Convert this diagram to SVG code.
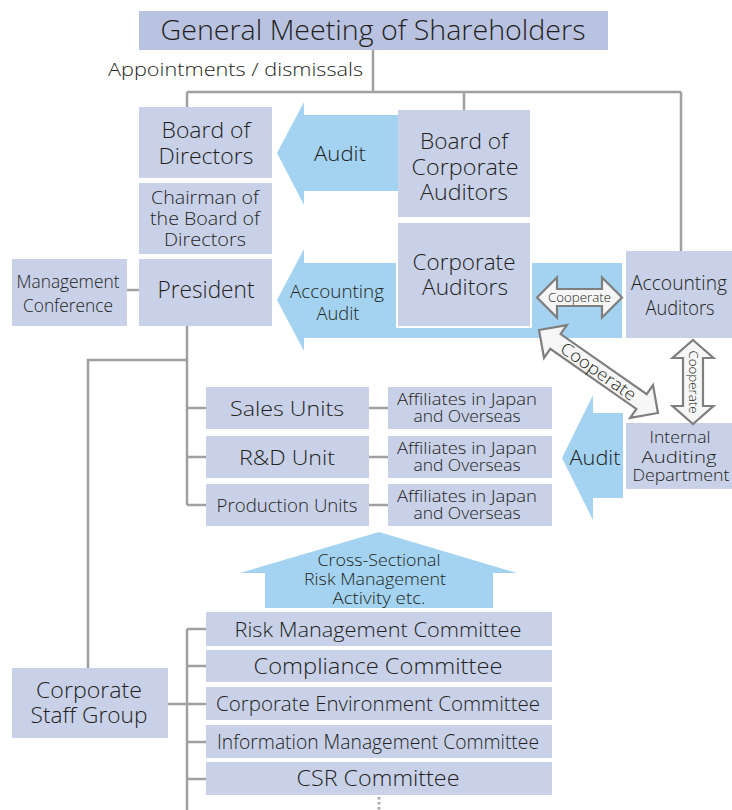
<svg xmlns="http://www.w3.org/2000/svg" width="732" height="810" viewBox="0 0 732 810">
<style>
.box{fill:#c9d1e9}
.gm{fill:#b9c3e1}
.ln{stroke:#a0a0a0;stroke-width:2.5;fill:none}
.blue{fill:#a3d3f1}
.coop{fill:#f6f6f6;stroke:#7f7f7f;stroke-width:2.2;stroke-linejoin:miter}
text{font-family:"Open Sans","Noto Sans","Liberation Sans",sans-serif;font-weight:300;fill:#231f20;text-anchor:middle}
</style>
<rect width="732" height="810" fill="#ffffff"/>
<g id="connectors">
<path class="ln" d="M373 50V92M187 92H681M187 92V107M464 92V110M681 92V251"/>
<path class="ln" d="M127 290H139"/>
<path class="ln" d="M187 326V505M187 360H88V668M187 408H206M187 457H206M187 505H206"/>
<path class="ln" d="M369 408H388M369 457H388M369 505H388"/>
<path class="ln" d="M168 704H187M187 629V810M187 629H206M187 666H206M187 704H206M187 742H206M187 779H206"/>
<path d="M379 797V810" stroke="#aaaaaa" stroke-width="3" stroke-dasharray="2.5 2.5"/>
</g>
<g id="arrow-audit-top">
<path class="blue" d="M277 153L304 102V115H398V191H304V205Z"/>
<text x="340" y="161" font-size="21" textLength="52" lengthAdjust="spacingAndGlyphs">Audit</text>
</g>
<g id="arrow-accounting-audit">
<path class="blue" d="M277 300L304 249V263H622V338H304V351Z"/>
<text x="337" y="298" font-size="19" textLength="94" lengthAdjust="spacingAndGlyphs">Accounting</text>
<text x="338" y="320" font-size="19" textLength="43" lengthAdjust="spacingAndGlyphs">Audit</text>
</g>
<g id="arrow-audit-bottom">
<path class="blue" d="M562 458L593 395V413H623V498H593V520Z"/>
<text x="595" y="465" font-size="21" textLength="51" lengthAdjust="spacingAndGlyphs">Audit</text>
</g>
<g id="arrow-cross-sectional">
<path class="blue" d="M379 532L517 573H493V608H265V573H240Z"/>
<text x="379" y="566" font-size="17" textLength="123" lengthAdjust="spacingAndGlyphs">Cross-Sectional</text>
<text x="375" y="585" font-size="17" textLength="142" lengthAdjust="spacingAndGlyphs">Risk Management</text>
<text x="379" y="604" font-size="17" textLength="93" lengthAdjust="spacingAndGlyphs">Activity etc.</text>
</g>
<g id="gm">
<rect class="gm" x="139" y="11" width="469" height="39"/>
<text x="373" y="40" font-size="28" textLength="425" lengthAdjust="spacingAndGlyphs">General Meeting of Shareholders</text>
</g>
<text x="108" y="76" font-size="19" style="text-anchor:start" textLength="255" lengthAdjust="spacingAndGlyphs">Appointments / dismissals</text>
<g id="board-of-directors">
<rect class="box" x="139" y="107" width="133" height="71"/>
<text x="206" y="138" font-size="22" textLength="89" lengthAdjust="spacingAndGlyphs">Board of</text>
<text x="206" y="164" font-size="22" textLength="95" lengthAdjust="spacingAndGlyphs">Directors</text>
</g>
<g id="chairman">
<rect class="box" x="139" y="183" width="133" height="71"/>
<text x="205" y="204" font-size="18.5" textLength="108" lengthAdjust="spacingAndGlyphs">Chairman of</text>
<text x="205" y="225" font-size="18.5" textLength="110" lengthAdjust="spacingAndGlyphs">the Board of</text>
<text x="205" y="246" font-size="18.5" textLength="82" lengthAdjust="spacingAndGlyphs">Directors</text>
</g>
<g id="president">
<rect class="box" x="139" y="259" width="133" height="67"/>
<text x="206" y="298" font-size="23" textLength="97" lengthAdjust="spacingAndGlyphs">President</text>
</g>
<g id="management-conference">
<rect class="box" x="12" y="259" width="115" height="67"/>
<text x="68" y="288" font-size="19" textLength="103" lengthAdjust="spacingAndGlyphs">Management</text>
<text x="68" y="312" font-size="19" textLength="90" lengthAdjust="spacingAndGlyphs">Conference</text>
</g>
<g id="board-of-corporate-auditors">
<rect class="box" x="398" y="110" width="132" height="107"/>
<text x="464" y="149" font-size="22" textLength="88" lengthAdjust="spacingAndGlyphs">Board of</text>
<text x="465" y="175" font-size="22" textLength="107" lengthAdjust="spacingAndGlyphs">Corporate</text>
<text x="464" y="200" font-size="22" textLength="88" lengthAdjust="spacingAndGlyphs">Auditors</text>
</g>
<g id="corporate-auditors">
<rect class="box" x="397" y="222" width="134" height="105" stroke="#ffffff" stroke-width="2"/>
<text x="464" y="270" font-size="22" textLength="103" lengthAdjust="spacingAndGlyphs">Corporate</text>
<text x="465" y="295" font-size="22" textLength="86" lengthAdjust="spacingAndGlyphs">Auditors</text>
</g>
<g id="accounting-auditors">
<rect class="box" x="626" y="251" width="106" height="87"/>
<text x="679" y="290" font-size="21" textLength="96" lengthAdjust="spacingAndGlyphs">Accounting</text>
<text x="680" y="315" font-size="21" textLength="69" lengthAdjust="spacingAndGlyphs">Auditors</text>
</g>
<g id="internal-auditing">
<rect class="box" x="626" y="423" width="106" height="66"/>
<text x="680" y="443" font-size="17" textLength="61" lengthAdjust="spacingAndGlyphs">Internal</text>
<text x="679" y="463" font-size="17" textLength="75" lengthAdjust="spacingAndGlyphs">Auditing</text>
<text x="681" y="481" font-size="17" textLength="97" lengthAdjust="spacingAndGlyphs">Department</text>
</g>
<g id="sales-units">
<rect class="box" x="206" y="387" width="163" height="42"/>
<text x="287" y="416" font-size="21" textLength="114" lengthAdjust="spacingAndGlyphs">Sales Units</text>
</g>
<g id="rd-unit">
<rect class="box" x="206" y="436" width="163" height="42"/>
<text x="287" y="465" font-size="21" textLength="96" lengthAdjust="spacingAndGlyphs">R&amp;D Unit</text>
</g>
<g id="production-units">
<rect class="box" x="206" y="484" width="163" height="42"/>
<text x="287" y="512" font-size="19" textLength="141" lengthAdjust="spacingAndGlyphs">Production Units</text>
</g>
<g id="affiliates-1">
<rect class="box" x="388" y="387" width="164" height="42"/>
<text x="467" y="405" font-size="16" textLength="140" lengthAdjust="spacingAndGlyphs">Affiliates in Japan</text>
<text x="467" y="422" font-size="16" textLength="107" lengthAdjust="spacingAndGlyphs">and Overseas</text>
</g>
<g id="affiliates-2">
<rect class="box" x="388" y="436" width="164" height="42"/>
<text x="467" y="454" font-size="16" textLength="140" lengthAdjust="spacingAndGlyphs">Affiliates in Japan</text>
<text x="467" y="471" font-size="16" textLength="107" lengthAdjust="spacingAndGlyphs">and Overseas</text>
</g>
<g id="affiliates-3">
<rect class="box" x="388" y="484" width="164" height="42"/>
<text x="467" y="502" font-size="16" textLength="140" lengthAdjust="spacingAndGlyphs">Affiliates in Japan</text>
<text x="467" y="519" font-size="16" textLength="107" lengthAdjust="spacingAndGlyphs">and Overseas</text>
</g>
<g id="risk-management-committee">
<rect class="box" x="206" y="612" width="346" height="34"/>
<text x="378" y="637" font-size="21" textLength="287" lengthAdjust="spacingAndGlyphs">Risk Management Committee</text>
</g>
<g id="compliance-committee">
<rect class="box" x="206" y="650" width="346" height="32"/>
<text x="378" y="674" font-size="22" textLength="249" lengthAdjust="spacingAndGlyphs">Compliance Committee</text>
</g>
<g id="corporate-environment-committee">
<rect class="box" x="206" y="687" width="346" height="33"/>
<text x="378" y="711" font-size="20" textLength="324" lengthAdjust="spacingAndGlyphs">Corporate Environment Committee</text>
</g>
<g id="information-management-committee">
<rect class="box" x="206" y="725" width="346" height="33"/>
<text x="378" y="749" font-size="19.5" textLength="322" lengthAdjust="spacingAndGlyphs">Information Management Committee</text>
</g>
<g id="csr-committee">
<rect class="box" x="206" y="762" width="346" height="33"/>
<text x="378" y="786" font-size="22" textLength="163" lengthAdjust="spacingAndGlyphs">CSR Committee</text>
</g>
<g id="corporate-staff-group">
<rect class="box" x="12" y="668" width="156" height="70"/>
<text x="89" y="698" font-size="22" textLength="106" lengthAdjust="spacingAndGlyphs">Corporate</text>
<text x="89" y="723" font-size="22" textLength="117" lengthAdjust="spacingAndGlyphs">Staff Group</text>
</g>
<g id="cooperate-horizontal" transform="translate(579.5 297.5)">
<path class="coop" d="M-42.5 0L-22.5 -20V-8.5H22.5V-20L42.5 0L22.5 20V8.5H-22.5V20Z"/>
<text x="0" y="4.5" font-size="13" textLength="63" lengthAdjust="spacingAndGlyphs">Cooperate</text>
</g>
<g id="cooperate-diagonal" transform="translate(598.5 371.5) rotate(34.9)">
<path class="coop" d="M-72.5 0L-52.5 -20V-9H52.5V-20L72.5 0L52.5 20V9H-52.5V20Z"/>
<text x="0" y="6" font-size="17" textLength="88" lengthAdjust="spacingAndGlyphs">Cooperate</text>
</g>
<g id="cooperate-vertical" transform="translate(693 382) rotate(90)">
<path class="coop" d="M-42 0L-24 -20.5V-10H24V-20.5L42 0L24 20.5V10H-24V20.5Z"/>
<text x="0" y="4.5" font-size="13" textLength="63" lengthAdjust="spacingAndGlyphs">Cooperate</text>
</g>
</svg>
